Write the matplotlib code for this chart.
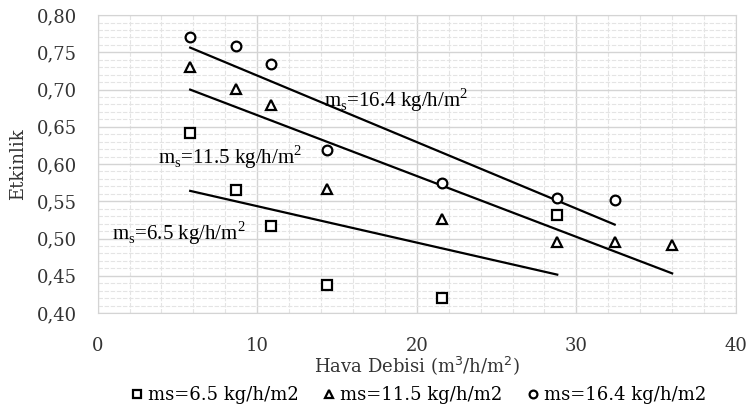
import matplotlib.pyplot as plt
import numpy as np
from matplotlib.ticker import MultipleLocator, FuncFormatter

# veriler
x_65 = [5.8, 8.7, 10.85, 14.4, 21.6, 28.8]
y_65 = [0.642, 0.565, 0.517, 0.437, 0.420, 0.532]
x_115 = [5.8, 8.7, 10.85, 14.4, 21.6, 28.8, 32.4, 36.0]
y_115 = [0.730, 0.701, 0.679, 0.566, 0.526, 0.495, 0.495, 0.491]
x_164 = [5.8, 8.7, 10.85, 14.4, 21.6, 28.8, 32.4]
y_164 = [0.770, 0.758, 0.734, 0.619, 0.575, 0.554, 0.552]

labels = ['ms=6.5 kg/h/m2', 'ms=11.5 kg/h/m2', 'ms=16.4 kg/h/m2']
notes = [r'm$_\mathregular{s}$=6.5 kg/h/m$^\mathregular{2}$',
         r'm$_\mathregular{s}$=11.5 kg/h/m$^\mathregular{2}$',
         r'm$_\mathregular{s}$=16.4 kg/h/m$^\mathregular{2}$']
note_pos = [(0.9, 0.507), (3.8, 0.609), (14.2, 0.686)]

plt.rcParams['font.family'] = 'DejaVu Serif'

fig = plt.figure(figsize=(7.51, 4.07), dpi=100)
ax = fig.add_axes([0.130, 0.231, 0.850, 0.732])

series = [(x_65, y_65, 's'), (x_115, y_115, '^'), (x_164, y_164, 'o')]
for (xs, ys, m), lab in zip(series, labels):
    ax.plot(xs, ys, linestyle='none', marker=m, ms=7, mfc='white', mec='black',
            mew=1.6, label=lab, zorder=4)
    # dogrusal egilim cizgisi
    k, b = np.polyfit(xs, ys, 1)
    xx = np.array([min(xs), max(xs)])
    ax.plot(xx, k * xx + b, color='black', lw=1.6, zorder=3)

for txt, (tx, ty) in zip(notes, note_pos):
    ax.text(tx, ty, txt, fontsize=15, family='Liberation Serif', ha='left', va='center')

ax.set_xlim(0, 40)
ax.set_ylim(0.40, 0.80)
ax.xaxis.set_major_locator(MultipleLocator(10))
ax.xaxis.set_minor_locator(MultipleLocator(2))
ax.yaxis.set_major_locator(MultipleLocator(0.05))
ax.yaxis.set_minor_locator(MultipleLocator(0.01))
ax.yaxis.set_major_formatter(FuncFormatter(lambda v, p: f'{v:.2f}'.replace('.', ',')))

ax.grid(True, which='major', color='#d4d4d4', lw=1.0, zorder=0)
ax.grid(True, which='minor', color='#e4e4e4', lw=0.8, ls=(0, (4, 1.5)), zorder=0)
ax.set_axisbelow(True)
for s in ax.spines.values():
    s.set_color('#d4d4d4')
ax.tick_params(which='both', length=0, labelsize=13, colors='#333333')
ax.tick_params(axis='x', pad=17)
ax.tick_params(axis='y', pad=15)

fig.text(0.555, 1 - 366 / 407, 'Hava Debisi (m$^3$/h/m$^2$)', fontsize=13,
         ha='center', va='center', color='#333333')
fig.text(0.024, 0.597, 'Etkinlik', fontsize=13, rotation=90,
         ha='center', va='center', color='#333333')

fig.legend(loc='center', bbox_to_anchor=(0.555, 1 - 395 / 407), ncol=3, frameon=False,
           fontsize=13, handletextpad=0.1, columnspacing=1.2, handlelength=1.0,
           markerscale=0.8, borderpad=0)

fig.savefig('out.png', dpi=100)
